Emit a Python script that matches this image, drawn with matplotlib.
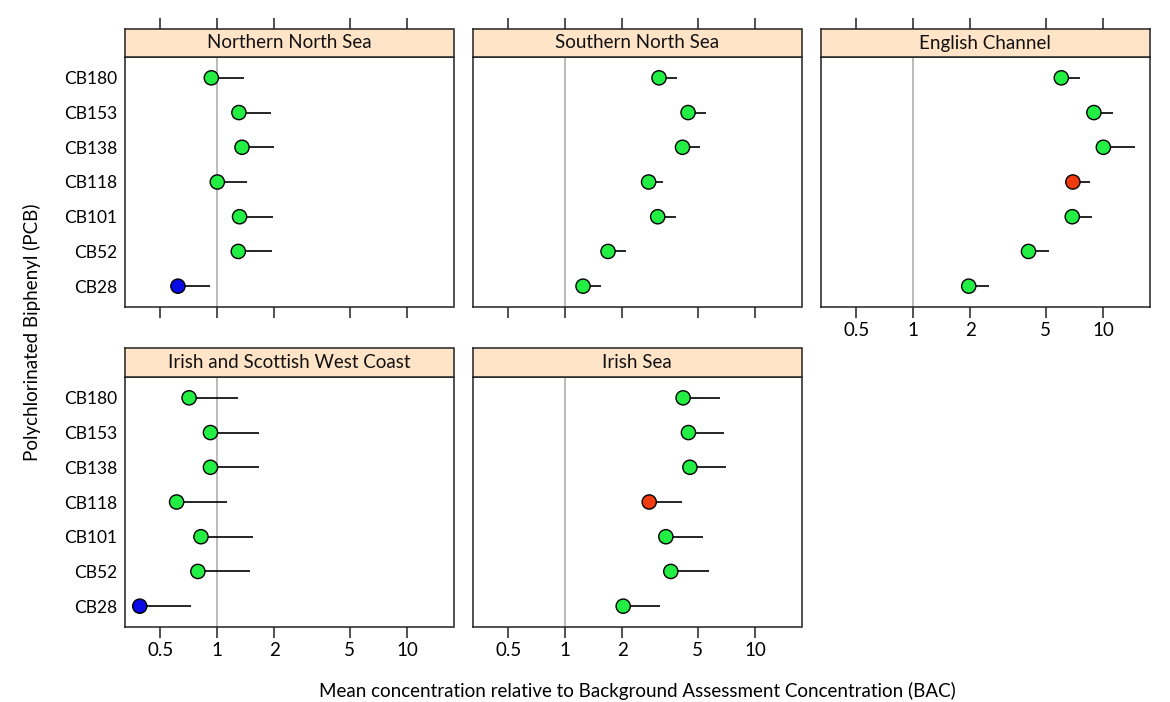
import matplotlib
matplotlib.use("Agg")
import matplotlib.pyplot as plt
import numpy as np

plt.rcParams['font.family'] = ['Lato', 'DejaVu Sans']

# ---- data ----
compounds = ["CB180", "CB153", "CB138", "CB118", "CB101", "CB52", "CB28"]
regions = ["Northern North Sea", "Southern North Sea", "English Channel",
           "Irish and Scottish West Coast", "Irish Sea"]

nns_mean = [0.93, 1.30, 1.35, 1.00, 1.31, 1.29, 0.62]
nns_upper = [1.39, 1.92, 2.00, 1.43, 1.97, 1.95, 0.92]
nns_status = ["green", "green", "green", "green", "green", "green", "blue"]

sns_mean = [3.12, 4.44, 4.15, 2.75, 3.07, 1.68, 1.24]
sns_upper = [3.89, 5.51, 5.14, 3.29, 3.83, 2.09, 1.55]
sns_status = ["green"] * 7

ec_mean = [6.03, 8.96, 10.05, 6.94, 6.89, 4.05, 1.96]
ec_upper = [7.60, 11.29, 14.8, 8.54, 8.72, 5.18, 2.51]
ec_status = ["green", "green", "green", "red", "green", "green", "green"]

iswc_mean = [0.71, 0.92, 0.92, 0.61, 0.82, 0.79, 0.39]
iswc_upper = [1.29, 1.66, 1.66, 1.12, 1.55, 1.48, 0.73]
iswc_status = ["green", "green", "green", "green", "green", "green", "blue"]

is_mean = [4.18, 4.46, 4.54, 2.77, 3.39, 3.60, 2.02]
is_upper = [6.56, 6.88, 7.05, 4.10, 5.33, 5.69, 3.14]
is_status = ["green", "green", "green", "red", "green", "green", "green"]

means = [nns_mean, sns_mean, ec_mean, iswc_mean, is_mean]
uppers = [nns_upper, sns_upper, ec_upper, iswc_upper, is_upper]
statuses = [nns_status, sns_status, ec_status, iswc_status, is_status]

xticks = [0.5, 1, 2, 5, 10]
xtick_labels = ["0.5", "1", "2", "5", "10"]
bac_ref = 1.0

status_colors = {"green": "#22EE44", "blue": "#0A0AE6", "red": "#F03A10"}

# ---- layout ----
W, H = 1170, 702
fig = plt.figure(figsize=(W / 100, H / 100), dpi=100)

lefts = [125, 473, 821]
pw = 328.5
rows = [(29, 57, 307), (348, 377, 627)]  # strip top, strip bottom/data top, data bottom
positions = [(0, 0), (0, 1), (0, 2), (1, 0), (1, 1)]

xlim = (0.326, 17.6)
edge = "#222222"
fs_strip = 13.5
fs_tick = 13.5
fs_ytick = 12.5
fs_lab = 13.5

def fr(x0, y0, x1, y1):
    return [x0 / W, 1 - y1 / H, (x1 - x0) / W, (y1 - y0) / H]

for i, reg in enumerate(regions):
    r, c = positions[i]
    st, sb, db = rows[r]
    x0 = lefts[c]
    ax = fig.add_axes(fr(x0, sb, x0 + pw, db))
    sax = fig.add_axes(fr(x0, st, x0 + pw, sb))

    for a in (ax, sax):
        a.set_xscale("log")
        a.set_xlim(*xlim)
        for s in a.spines.values():
            s.set_color(edge)
            s.set_linewidth(1.1)
        a.minorticks_off()

    # strip
    sax.set_facecolor("#FFE4C8")
    sax.set_yticks([])
    sax.text(0.5, 0.5, reg, transform=sax.transAxes, ha="center", va="center",
             fontsize=fs_strip, color="#111111")
    if r == 0:
        sax.xaxis.set_ticks_position("top")
        sax.set_xticks(xticks)
        sax.set_xticklabels([])
        sax.tick_params(axis="x", direction="out", length=8, width=1.1, color=edge)
    else:
        sax.set_xticks([])

    # data
    y = np.arange(len(compounds))[::-1]
    ax.axvline(bac_ref, color="#AAAAAA", lw=1.1, zorder=1)
    ax.hlines(y, means[i], uppers[i], color="black", lw=1.2, zorder=2)
    cols = [status_colors[s] for s in statuses[i]]
    ax.scatter(means[i], y, s=105, c=cols, edgecolors="black", linewidths=1.0, zorder=3)
    ax.set_ylim(-0.6, 6.6)
    ax.set_yticks(y)
    if c == 0:
        ax.set_yticklabels(compounds, fontsize=fs_ytick)
        ax.tick_params(axis="y", length=0, pad=5.5)
    else:
        ax.set_yticklabels([])
        ax.tick_params(axis="y", length=0)
    ax.set_xticks(xticks)
    ax.tick_params(axis="x", direction="out", length=8, width=1.1, color=edge, pad=3)
    if r == 1 or c == 2:
        ax.set_xticklabels(xtick_labels, fontsize=fs_tick)
    else:
        ax.set_xticklabels([])

fig.text(32 / W, 1 - 332 / H, "Polychlorinated Biphenyl (PCB)", rotation=90,
         ha="center", va="center", fontsize=fs_lab)
fig.text(637 / W, 1 - 691 / H,
         "Mean concentration relative to Background Assessment Concentration (BAC)",
         ha="center", va="center", fontsize=fs_lab)

fig.savefig("out.png", dpi=100)
